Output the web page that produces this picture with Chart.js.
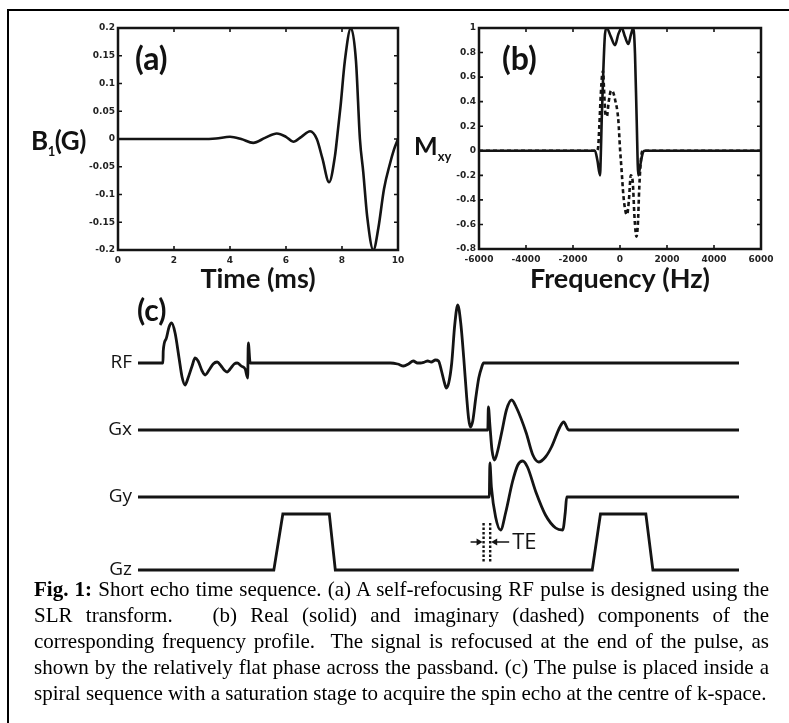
<!DOCTYPE html>
<html>
<head>
<meta charset="utf-8">
<script src="https://cdn.jsdelivr.net/npm/chart.js@4.4.1/dist/chart.umd.min.js"></script>
<style>
  body { margin: 0; width: 789px; height: 723px; overflow: hidden; background: #fff; position: relative; font-family: Lato, sans-serif; color: #111; }
  .frame { position: absolute; left: 7px; top: 9px; width: 900px; height: 900px; border-left: 2px solid #000; border-top: 2px solid #000; }
  .box { position: absolute; }
  .lbl { position: absolute; font-weight: bold; white-space: nowrap; line-height: 1; }
  .cap { position: absolute; left: 34px; width: 735px; top: 576px; font-family: 'Liberation Serif', serif; font-size: 21px; line-height: 26px; color: #000; }
  .cap div { text-align: justify; text-align-last: justify; white-space: nowrap; }
  .cap div.last { text-align-last: left; }
</style>
</head>
<body>
<div class="frame"></div>

<div class="box" style="left:0;top:0;width:410px;height:300px"><canvas id="chartA" width="410" height="300"></canvas></div>
<div class="box" style="left:400px;top:0;width:389px;height:300px"><canvas id="chartB" width="389" height="300"></canvas></div>
<div class="box" style="left:0;top:290px;width:789px;height:290px"><canvas id="chartC" width="789" height="290"></canvas></div>

<div class="lbl" style="left:135px;top:42px;font-size:32px">(a)</div>
<div class="lbl" style="left:502px;top:42px;font-size:32px">(b)</div>
<div class="lbl" style="left:137px;top:294px;font-size:30px">(c)</div>
<div class="lbl" style="left:31px;top:127px;font-size:26px;letter-spacing:-0.5px">B<sub style="font-size:13px">1</sub>(G)</div>
<div class="lbl" style="left:414px;top:133px;font-size:25px">M<sub style="font-size:13px">xy</sub></div>

<div class="cap">
  <div><b>Fig. 1:</b> Short echo time sequence. (a) A self-refocusing RF pulse is designed using the</div>
  <div>SLR transform.&nbsp;&nbsp; (b) Real (solid) and imaginary (dashed) components of the</div>
  <div>corresponding frequency profile.&nbsp; The signal is refocused at the end of the pulse, as</div>
  <div>shown by the relatively flat phase across the passband. (c) The pulse is placed inside a</div>
  <div class="last">spiral sequence with a saturation stage to acquire the spin echo at the centre of k-space.</div>
</div>

<script>
// (a) RF pulse B1 (G) over time (ms)
const aTime = [0, 1, 2, 3, 3.5, 4.0, 4.4, 4.83, 5.25, 5.67, 6.0, 6.26, 6.55, 6.86, 7.1, 7.3, 7.54, 7.75, 7.82, 7.95, 8.1, 8.32, 8.5, 8.64, 8.76, 8.9, 9.12, 9.3, 9.5, 9.71, 9.85, 10];
const aB1 = [0, 0, 0, 0, 0.001, 0.004, 0.0, -0.007, 0.002, 0.01, 0.004, -0.005, 0.004, 0.014, 0.0, -0.035, -0.078, -0.03, 0, 0.06, 0.14, 0.2, 0.14, 0, -0.06, -0.14, -0.2, -0.16, -0.09, -0.045, -0.02, 0];
const aXTicks = [0, 2, 4, 6, 8, 10];
const aXTickLabels = ['0', '2', '4', '6', '8', '10'];
const aYTicks = [-0.2, -0.15, -0.1, -0.05, 0, 0.05, 0.1, 0.15, 0.2];
const aYTickLabels = ['-0.2', '-0.15', '-0.1', '-0.05', '0', '0.05', '0.1', '0.15', '0.2'];

// (b) frequency profile, real (solid) and imaginary (dashed)
const bRealFreq = [-6000, -1064, -960, -851, -815, -779, -710, -639, -567, -390, -213, -70, 72, 210, 354, 470, 567, 638, 710, 779, 879, 964, 1050, 6000];
const bReal = [0, 0, -0.08, -0.2, -0.02, 0.25, 0.65, 0.95, 1.0, 0.93, 0.86, 0.95, 1.0, 0.93, 0.87, 0.95, 1.0, 0.79, 0.25, -0.2, -0.1, -0.02, 0, 0];
const bImagFreq = [-6000, -1000, -936, -880, -820, -760, -720, -680, -620, -560, -480, -380, -300, -213, -71, 0, 72, 142, 240, 300, 380, 460, 540, 620, 700, 760, 820, 900, 960, 6000];
const bImag = [0, 0, 0.02, 0.2, 0.45, 0.62, 0.65, 0.5, 0.3, 0.28, 0.4, 0.49, 0.48, 0.42, 0.25, 0.02, -0.17, -0.36, -0.5, -0.52, -0.4, -0.2, -0.25, -0.55, -0.7, -0.6, -0.3, -0.05, 0, 0];
const bXTicks = [-6000, -4000, -2000, 0, 2000, 4000, 6000];
const bXTickLabels = ['-6000', '-4000', '-2000', '0', '2000', '4000', '6000'];
const bYTicks = [-0.8, -0.6, -0.4, -0.2, 0, 0.2, 0.4, 0.6, 0.8, 1];
const bYTickLabels = ['-0.8', '-0.6', '-0.4', '-0.2', '0', '0.2', '0.4', '0.6', '0.8', '1'];

// (c) sequence diagram, time in arbitrary units, amplitudes per row
const rowNames = ['RF', 'Gx', 'Gy', 'Gz'];
const rfTime = [0, 4.15, 4.2, 4.67, 5.17, 5.6, 6.17, 6.83, 7.33, 7.83, 8.33, 9.0, 9.5, 10.0, 10.67, 11.17, 11.83, 12.5, 13.17, 13.83, 14.33, 14.83, 15.33, 16.0, 16.5, 17.17, 17.83, 18.25, 18.35, 18.67, 33.3, 40.3, 42.0, 43.2, 44.2, 45.0, 45.8, 46.5, 47.0, 47.7, 48.2, 48.8, 49.5, 50.0, 50.5, 51.0, 51.3, 51.7, 52.2, 52.7, 53.2, 53.7, 54.2, 54.7, 55.0, 55.3, 55.7, 56.2, 56.7, 57.2, 57.5, 100];
const rfAmp = [0, 0, 12, 24, 36, 40, 30, 5, -14, -22, -15, -3, 5, 2, -8, -12, -7, -1, 1, -3, -7, -9, -6, -1, 0, -3, -6, -15, 20, 0, 0, 0, 0, -1, -3, -1, 2, 0, 0, 1, 2, 1, 3, 2, -8, -20, -25, -20, 0, 38, 58, 40, 5, -35, -55, -64, -58, -35, -15, -4, 0, 0];
const gxTime = [0, 58.2, 58.3, 58.55, 58.9, 59.33, 59.8, 60.6, 61.3, 62.17, 63.0, 64.6, 65.7, 66.67, 67.8, 68.8, 70.2, 70.83, 71.67, 100];
const gxAmp = [0, 0, 23, 5, -20, -30, -22, 0, 20, 30, 22, -3, -25, -32, -27, -17, 3, 8, 0, 0];
const gyTime = [0, 58.45, 58.55, 58.8, 59.5, 60.33, 61.2, 62.3, 63.2, 64.0, 64.8, 66.2, 67.8, 69.5, 70.67, 71.1, 71.33, 100];
const gyAmp = [0, 0, 34, 10, -20, -33, -15, 15, 32, 36, 30, 5, -18, -31, -33, -15, 0, 0];
const gzTime = [0, 22.6, 24.1, 31.83, 32.83, 75.58, 76.95, 84.5, 85.67, 100];
const gzAmp = [0, 0, 56, 56, 0, 0, 56, 56, 0, 0];
const teTimes = [57.5, 58.6];

// vertical place of each row in chart (c), px from the bottom of its canvas
const rowBase = [217, 150, 83, 10];

const ink = '#141414';
const tickFont = { family: 'DejaVu Sans', size: 9, weight: 'bold' };

function pairs(xs, ys) {
    return xs.map((x, i) => ({ x: x, y: ys[i] }));
}

// frame and inward tick marks on all four sides
const frameTicks = {
    id: 'frameTicks',
    afterDraw(chart) {
        const { ctx, chartArea: a, scales: { x, y } } = chart;
        ctx.save();
        ctx.strokeStyle = ink;
        ctx.lineWidth = 1.6;
        ctx.beginPath();
        x.ticks.forEach(t => {
            const px = x.getPixelForValue(t.value);
            ctx.moveTo(px, a.bottom); ctx.lineTo(px, a.bottom - 4);
            ctx.moveTo(px, a.top); ctx.lineTo(px, a.top + 4);
        });
        y.ticks.forEach(t => {
            const py = y.getPixelForValue(t.value);
            ctx.moveTo(a.left, py); ctx.lineTo(a.left + 4, py);
            ctx.moveTo(a.right, py); ctx.lineTo(a.right - 4, py);
        });
        ctx.stroke();
        ctx.lineWidth = 2.5;
        ctx.strokeRect(a.left, a.top, a.right - a.left, a.bottom - a.top);
        ctx.restore();
    }
};

function panelOptions(xTicks, xLabels, yTicks, yLabels, title, yWidth, xHeight, padRight) {
    return {
        responsive: false,
        animation: false,
        layout: { padding: { left: 0, top: 28, right: padRight, bottom: 0 } },
        plugins: { legend: { display: false }, tooltip: { enabled: false } },
        elements: { point: { radius: 0 } },
        scales: {
            x: {
                type: 'linear',
                min: xTicks[0], max: xTicks[xTicks.length - 1],
                grid: { display: false, drawTicks: false },
                border: { display: false },
                afterBuildTicks: s => { s.ticks = xTicks.map(v => ({ value: v })); },
                afterFit: s => { s.height = xHeight; },
                ticks: { font: tickFont, color: '#222', padding: 5, maxRotation: 0,
                    callback: (v, i) => xLabels[i] },
                title: { display: true, text: title, color: ink,
                    font: { family: 'Lato', size: 27, weight: 'bold', lineHeight: 1 },
                    padding: { top: 0, bottom: 7 } }
            },
            y: {
                type: 'linear',
                min: yTicks[0], max: yTicks[yTicks.length - 1],
                grid: { display: false, drawTicks: false },
                border: { display: false },
                afterBuildTicks: s => { s.ticks = yTicks.map(v => ({ value: v })); },
                afterFit: s => { s.width = yWidth; },
                ticks: { font: tickFont, color: '#222', padding: 3,
                    callback: (v, i) => yLabels[i] }
            }
        }
    };
}

new Chart(document.getElementById('chartA'), {
    type: 'line',
    data: {
        datasets: [{
            data: pairs(aTime, aB1),
            borderColor: ink, borderWidth: 2.6,
            cubicInterpolationMode: 'monotone'
        }]
    },
    options: panelOptions(aXTicks, aXTickLabels, aYTicks, aYTickLabels, 'Time (ms)', 118, 50, 12),
    plugins: [frameTicks]
});

new Chart(document.getElementById('chartB'), {
    type: 'line',
    data: {
        datasets: [{
            data: pairs(bImagFreq, bImag),
            borderColor: ink, borderWidth: 2.6, borderDash: [4, 3],
            cubicInterpolationMode: 'monotone'
        }, {
            data: pairs(bRealFreq, bReal),
            borderColor: ink, borderWidth: 2.6,
            cubicInterpolationMode: 'monotone'
        }]
    },
    options: panelOptions(bXTicks, bXTickLabels, bYTicks, bYTickLabels, 'Frequency (Hz)', 79, 51, 28),
    plugins: [frameTicks]
});

// TE marker: two dotted lines with arrows pointing at them
const teMarker = {
    id: 'teMarker',
    afterDatasetsDraw(chart) {
        const { ctx, scales: { x, y } } = chart;
        const x1 = x.getPixelForValue(teTimes[0]);
        const x2 = x.getPixelForValue(teTimes[1]);
        const top = y.getPixelForValue(rowBase[3] + 47);
        const bot = y.getPixelForValue(rowBase[3] + 7);
        const ya = y.getPixelForValue(rowBase[3] + 28);
        ctx.save();
        ctx.strokeStyle = ink;
        ctx.fillStyle = ink;
        ctx.lineWidth = 2.4;
        ctx.setLineDash([2.5, 2]);
        ctx.beginPath();
        ctx.moveTo(x1, top); ctx.lineTo(x1, bot);
        ctx.moveTo(x2, top); ctx.lineTo(x2, bot);
        ctx.stroke();
        ctx.setLineDash([]);
        ctx.lineWidth = 1.6;
        ctx.beginPath();
        ctx.moveTo(x1 - 13, ya); ctx.lineTo(x1 - 5, ya);
        ctx.moveTo(x2 + 19, ya); ctx.lineTo(x2 + 5, ya);
        ctx.stroke();
        ctx.beginPath();
        ctx.moveTo(x1 - 1, ya); ctx.lineTo(x1 - 7, ya - 3.5); ctx.lineTo(x1 - 7, ya + 3.5); ctx.closePath();
        ctx.moveTo(x2 + 1, ya); ctx.lineTo(x2 + 7, ya - 3.5); ctx.lineTo(x2 + 7, ya + 3.5); ctx.closePath();
        ctx.fill();
        ctx.font = '22px "Open Sans"';
        ctx.textBaseline = 'middle';
        ctx.fillText('TE', x2 + 22, ya + 1);
        ctx.restore();
    }
};

const rows = [rfTime, gxTime, gyTime, gzTime];
const amps = [rfAmp, gxAmp, gyAmp, gzAmp];

new Chart(document.getElementById('chartC'), {
    type: 'line',
    data: {
        datasets: rows.map((t, r) => ({
            label: rowNames[r],
            data: t.map((v, i) => ({ x: v, y: rowBase[r] + amps[r][i] })),
            borderColor: ink,
            borderWidth: 2.8,
            cubicInterpolationMode: r === 3 ? 'default' : 'monotone',
            tension: 0,
            clip: false
        }))
    },
    options: {
        responsive: false,
        animation: false,
        layout: { padding: { left: 0, top: 0, right: 50, bottom: 0 } },
        plugins: { legend: { display: false }, tooltip: { enabled: false } },
        elements: { point: { radius: 0 } },
        scales: {
            x: { type: 'linear', min: 0, max: 100, display: false },
            y: {
                type: 'linear', min: 0, max: 290,
                grid: { display: false, drawTicks: false },
                border: { display: false },
                afterBuildTicks: s => { s.ticks = rowBase.map(v => ({ value: v })); },
                afterFit: s => { s.width = 138; s.paddingTop = 0; s.paddingBottom = 0; },
                ticks: {
                    font: { family: 'Open Sans', size: 19 }, color: ink, padding: 6,
                    callback: v => rowNames[rowBase.indexOf(v)]
                }
            }
        }
    },
    plugins: [teMarker]
});
</script>
</body>
</html>
